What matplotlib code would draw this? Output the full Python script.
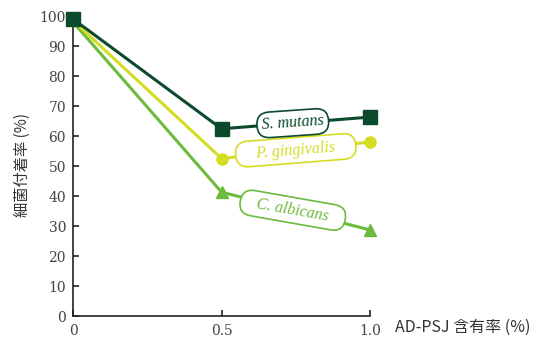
import matplotlib
matplotlib.use("Agg")
import matplotlib.pyplot as plt
import numpy as np

plt.rcParams['font.family'] = ['Noto Sans CJK JP', 'DejaVu Sans']

# AD-PSJ content (%) and bacterial adhesion rate (%)
content = [0, 0.5, 1.0]
s_mutans = [99.0, 62.4, 66.3]
p_gingivalis = [98.5, 52.5, 58.0]
c_albicans = [98.0, 41.3, 28.7]

# drawn bottom-to-top so the dark series sits on top at the origin
series = [
    ("C. albicans", c_albicans, "#6cbb3c", "^", 9, -10.0, 0.48, "   "),
    ("P. gingivalis", p_gingivalis, "#d5dd22", "o", 8, 4.5, 0.50, "    "),
    ("S. mutans", s_mutans, "#0b4a2c", "s", 10, 4.0, 0.48, ""),
]

fig = plt.figure(figsize=(5.43, 3.40), dpi=100)
ax = fig.add_axes([73 / 543, 24 / 340, 297 / 543, 300 / 340])

for i, (name, vals, color, marker, ms, rot, t, sp) in enumerate(series):
    ax.plot(content, vals, color=color, lw=2.2, zorder=3 + i,
            clip_on=False)
    ax.plot(content[1:], vals[1:], color=color, lw=0, marker=marker,
            ms=ms, clip_on=False, zorder=3 + i)
    # label box sitting on the segment between 0.5 and 1.0
    lx = content[1] + t * (content[2] - content[1])
    ly = vals[1] + t * (vals[2] - vals[1])
    ax.text(lx, ly, sp + name + sp, color=color, fontsize=11.5,
            style='italic', family='Liberation Serif', ha='center',
            va='center', rotation=rot, rotation_mode='anchor', zorder=10,
            bbox=dict(boxstyle='round,pad=0.3,rounding_size=0.8',
                      fc='white', ec=color, lw=1.2))

# shared starting point at 0 %
ax.plot(content[0], s_mutans[0], color="#0b4a2c", marker="s", ms=10,
        lw=0, clip_on=False, zorder=8)

ax.set_xlim(0, 1.0)
ax.set_ylim(0, 100)
ax.set_xticks([0, 0.5, 1.0])
ax.set_xticklabels(["0", "0.5", "1.0"])
ax.set_yticks(np.arange(0, 101, 10))

for lab in ax.get_xticklabels() + ax.get_yticklabels():
    lab.set_family('DejaVu Serif')
    lab.set_fontsize(10)
    lab.set_color('#444444')

ax.tick_params(direction='in', length=4, width=1.2, color='#222222')
ax.tick_params(axis='x', pad=6)
ax.tick_params(axis='y', pad=5)
for side in ('top', 'right'):
    ax.spines[side].set_visible(False)
for side in ('left', 'bottom'):
    ax.spines[side].set_linewidth(1.2)
    ax.spines[side].set_color('#222222')

fig.text(22 / 543, 1 - 165 / 340, "細菌付着率 (%)", rotation=90,
         ha='center', va='center', fontsize=11, color='#333333')
fig.text(395 / 543, 1 - 327 / 340, "AD-PSJ 含有率 (%)",
         ha='left', va='center', fontsize=11.5, color='#333333')

fig.savefig("out.png", dpi=100)
